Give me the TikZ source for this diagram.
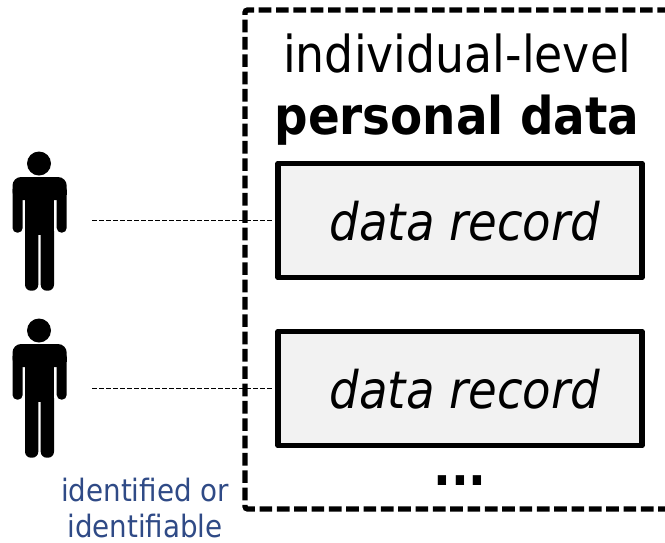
\documentclass[tikz,border=0pt]{standalone}
\usepackage{fontspec}
\setmainfont{DejaVu Sans}[FakeStretch=0.9]
\definecolor{navy}{HTML}{2F4A86}
\definecolor{recfill}{HTML}{F2F2F2}
\tikzset{
 recbox/.style={draw=black,fill=recfill,line width=3.8bp,line join=round,minimum width=273bp,minimum height=86bp,inner sep=0pt},
 rectext/.style={inner sep=0pt,font=\fontsize{39}{40}\selectfont\itshape},
 link/.style={draw=black,line width=0.9bp,dash pattern=on 3.75bp off 1.5bp,shorten >=2bp},
 outer/.style={draw=black,line width=4bp,dash pattern=on 9.5bp off 3.5bp,rounded corners=2bp},
 title/.style={inner sep=0pt,font=\fontsize{38.3}{40}\selectfont},
 titleb/.style={inner sep=0pt,font=\fontsize{39.2}{40}\selectfont\bfseries},
 note/.style={inner sep=0pt,text=navy,font=\fontsize{23.2}{28}\selectfont},
 person/.pic={
  \fill[black] (39,163.5) circle (12);
  \fill[black,rounded corners=6.5bp] (12.5,200) -- (12.5,177) -- (66.7,177) -- (66.7,200) -- cycle;
  \fill[black] (12.5,195) rectangle (66.7,190);
  \fill[black,rounded corners=3.6bp] (12.5,185) rectangle (22.7,232.7);
  \fill[black,rounded corners=3.6bp] (56.7,185) rectangle (66.7,232.7);
  \fill[black] (25,180) rectangle (54,235);
  \fill[black,rounded corners=4.5bp] (25,225) rectangle (38.3,290.7);
  \fill[black,rounded corners=4.5bp] (40.7,225) rectangle (54,290.7);
  \fill[black] (25,225) rectangle (54,232);
 }
}
\begin{document}
\begin{tikzpicture}[x=0.75bp,y=-0.75bp]
\useasboundingbox (0,0) rectangle (665,543);
\begin{scope}
\clip (0,0) rectangle (665,543);
\draw[outer] (670,10) -- (245,10) -- (245,509) -- (670,509);
\end{scope}
\node[title] (t1) at (457,54) {individual-level};
\node[titleb] (t2) at (457,120.5) {personal data};
\node[recbox] (r1) at (460,220.5) {};
\node[recbox] (r2) at (460,388.5) {};
\node[rectext] (l1) at (465,221) {data record};
\node[rectext] (l2) at (465,389) {data record};
\node[titleb] (dots) at (460,481) {...};
\pic (h1) at (0,0) {person};
\pic (h2) at (0,167) {person};
\coordinate (c1) at (92,220.5);
\coordinate (c2) at (92,388.5);
\draw[link] (c1) -- (r1.west);
\draw[link] (c2) -- (r2.west);
\node[note] (n1) at (145,490) {identified or};
\node[note] (n2) at (145,526) {identifiable};
\end{tikzpicture}
\end{document}
